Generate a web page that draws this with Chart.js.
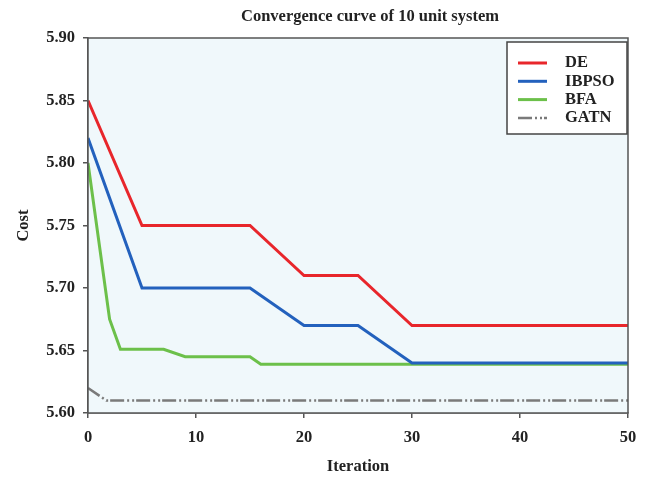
<!DOCTYPE html>
<html>
<head>
<meta charset="utf-8">
<script src="https://cdn.jsdelivr.net/npm/chart.js@4.4.0/dist/chart.umd.min.js"></script>
<style>
  html, body { margin: 0; padding: 0; background: #fff; }
  #wrap { width: 649px; height: 477px; }
</style>
</head>
<body>
<div id="wrap"><canvas id="chart" width="649" height="477"></canvas></div>
<script>
// data (iteration, cost)
const chartTitle = 'Convergence curve of 10 unit system';
const seriesNames = ['DE', 'IBPSO', 'BFA', 'GATN'];
const deX = [0, 5, 15, 20, 25, 30, 50];
const deY = [5.85, 5.75, 5.75, 5.71, 5.71, 5.67, 5.67];
const ibpsoX = [0, 5, 15, 20, 25, 30, 50];
const ibpsoY = [5.82, 5.70, 5.70, 5.67, 5.67, 5.64, 5.64];
const bfaX = [0, 2, 3, 7, 9, 15, 16, 50];
const bfaY = [5.80, 5.675, 5.651, 5.651, 5.645, 5.645, 5.639, 5.639];
const gatnX = [0, 1.7, 50];
const gatnY = [5.62, 5.61, 5.61];
const xTicks = [0, 10, 20, 30, 40, 50];
const yTicks = [5.60, 5.65, 5.70, 5.75, 5.80, 5.85, 5.90];

const serif = "'Liberation Serif', 'DejaVu Serif', serif";
const fs = 16.5;

function pts(xs, ys) {
  return xs.map((x, i) => ({ x: x, y: ys[i] }));
}

// light blue plot background + frame + title
const plotFrame = {
  id: 'plotFrame',
  beforeDatasetsDraw(chart) {
    const a = chart.chartArea, ctx = chart.ctx;
    ctx.save();
    ctx.fillStyle = '#f0f8fb';
    ctx.fillRect(a.left, a.top, a.right - a.left, a.bottom - a.top);
    ctx.restore();
  },
  afterDatasetsDraw(chart) {
    const a = chart.chartArea, ctx = chart.ctx;
    ctx.save();
    ctx.strokeStyle = '#555';
    ctx.lineWidth = 1.5;
    ctx.strokeRect(a.left, a.top, a.right - a.left, a.bottom - a.top);
    ctx.fillStyle = '#222';
    ctx.font = 'bold ' + fs + 'px ' + serif;
    ctx.textAlign = 'center';
    ctx.textBaseline = 'middle';
    ctx.fillText(chartTitle, 370, 17);
    ctx.restore();
  }
};

// boxed legend drawn inside the plot, top right
const boxLegend = {
  id: 'boxLegend',
  afterDraw(chart) {
    const a = chart.chartArea, ctx = chart.ctx;
    const x0 = a.right - 121, y0 = a.top + 4, w = 120, h = 92;
    ctx.save();
    ctx.fillStyle = '#fff';
    ctx.fillRect(x0, y0, w, h);
    ctx.strokeStyle = '#444';
    ctx.lineWidth = 1.5;
    ctx.strokeRect(x0, y0, w, h);
    ctx.font = 'bold ' + fs + 'px ' + serif;
    ctx.textBaseline = 'middle';
    chart.data.datasets.forEach((ds, i) => {
      const y = y0 + 21 + i * 18.3;
      ctx.strokeStyle = ds.borderColor;
      ctx.lineWidth = ds.borderWidth;
      ctx.setLineDash(ds.borderDash || []);
      ctx.beginPath();
      ctx.moveTo(x0 + 11, y);
      ctx.lineTo(x0 + 40, y);
      ctx.stroke();
      ctx.setLineDash([]);
      ctx.fillStyle = '#222';
      ctx.fillText(ds.label, x0 + 58, y);
    });
    ctx.restore();
  }
};

new Chart(document.getElementById('chart'), {
  type: 'scatter',
  data: {
    datasets: [
      { label: seriesNames[0], data: pts(deX, deY), borderColor: '#e8262b', borderWidth: 3 },
      { label: seriesNames[1], data: pts(ibpsoX, ibpsoY), borderColor: '#2361bd', borderWidth: 3 },
      { label: seriesNames[2], data: pts(bfaX, bfaY), borderColor: '#6cc04a', borderWidth: 3 },
      { label: seriesNames[3], data: pts(gatnX, gatnY), borderColor: '#7a7a7a', borderWidth: 2.5, borderDash: [14, 3, 2, 3, 2, 2] }
    ].map(ds => Object.assign(ds, { showLine: true, pointRadius: 0, tension: 0, fill: false }))
  },
  options: {
    responsive: false,
    animation: false,
    layout: { padding: { left: 0, right: 21, top: 38, bottom: 0 } },
    plugins: {
      legend: { display: false },
      tooltip: { enabled: false },
      title: { display: false }
    },
    scales: {
      x: {
        type: 'linear',
        min: 0, max: 50,
        afterBuildTicks(scale) { scale.ticks = xTicks.map(v => ({ value: v })); },
        afterFit(scale) { scale.height = 64; },
        grid: { display: true, drawOnChartArea: false, drawTicks: true, tickLength: 5, color: '#555', lineWidth: 1.5 },
        border: { display: true, color: '#555', width: 1.5 },
        ticks: { color: '#222', font: { family: serif, size: fs, weight: 'bold' }, padding: 10, maxRotation: 0 },
        title: { display: true, text: 'Iteration', color: '#222', font: { family: serif, size: fs, weight: 'bold' }, padding: { top: 0, bottom: 0 } }
      },
      y: {
        type: 'linear',
        min: 5.60, max: 5.90,
        afterBuildTicks(scale) { scale.ticks = yTicks.map(v => ({ value: v })); },
        afterFit(scale) { scale.width = 88; },
        grid: { display: true, drawOnChartArea: false, drawTicks: true, tickLength: 5, color: '#555', lineWidth: 1.5 },
        border: { display: true, color: '#555', width: 1.5 },
        ticks: { color: '#222', font: { family: serif, size: fs, weight: 'bold' }, padding: 8, callback: v => v.toFixed(2) },
        title: { display: true, text: 'Cost', color: '#222', font: { family: serif, size: fs, weight: 'bold' }, padding: { top: 14, bottom: 0 } }
      }
    }
  },
  plugins: [plotFrame, boxLegend]
});
</script>
</body>
</html>
